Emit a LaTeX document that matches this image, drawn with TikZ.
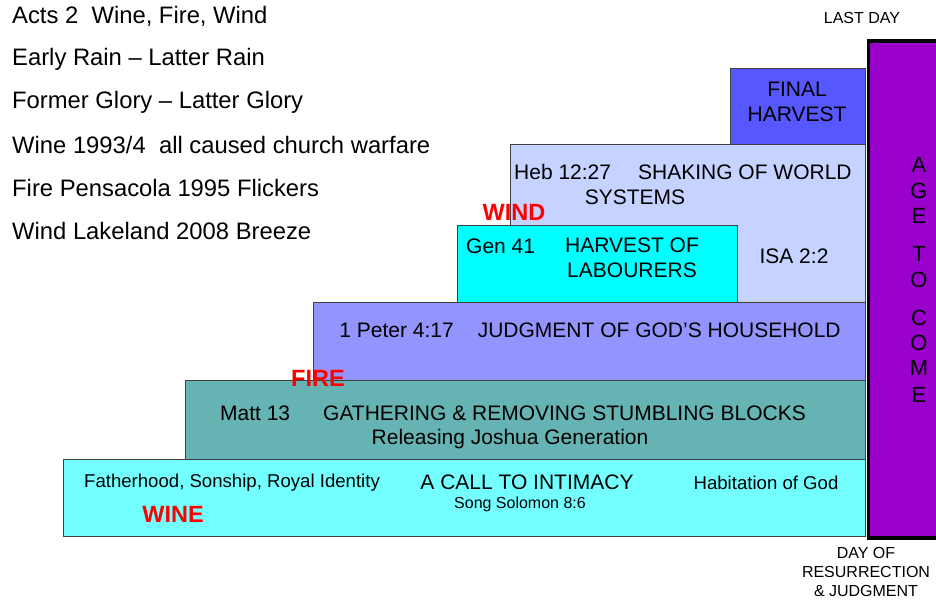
\documentclass[tikz,border=0pt]{standalone}
\usepackage{fontspec}
\setmainfont{Liberation Sans}
\usepackage{xcolor}

\definecolor{winecol}{HTML}{73FFFF}
\definecolor{firecol}{HTML}{66B3B3}
\definecolor{judgecol}{HTML}{9494FF}
\definecolor{shakecol}{HTML}{C6D2FF}
\definecolor{labourcol}{HTML}{00FFFF}
\definecolor{finalcol}{HTML}{5757FF}
\definecolor{agecol}{HTML}{9900CC}
\definecolor{edgecol}{HTML}{404040}

\tikzset{
  stage/.style={draw=edgecol, line width=1pt, anchor=north west, inner sep=0pt},
  listtext/.style={anchor=west, inner sep=0pt, font=\fontsize{23.8}{26}\selectfont},
  boxtext/.style={inner sep=0pt, align=center, font=\fontsize{21}{25.5}\selectfont},
  smalltext/.style={inner sep=0pt, align=center, font=\fontsize{18.6}{22}\selectfont},
  spirit/.style={inner sep=0pt, text=red, font=\bfseries\fontsize{23.5}{26}\selectfont},
  agetext/.style={inner sep=0pt, font=\fontsize{22}{24}\selectfont}
}

\begin{document}
\begin{tikzpicture}[x=1pt, y=-1pt]
	\useasboundingbox (0,0) rectangle (936,600);

	% stages of the staircase
	\node[stage, fill=shakecol, minimum width=355pt, minimum height=158pt] at (510,144) (shake){};
	\node[stage, fill=labourcol, minimum width=280pt, minimum height=77pt] at (457,225) (labour){};
	\node[stage, fill=finalcol, minimum width=135pt, minimum height=76pt] at (730,68) (final){};
	\node[stage, fill=judgecol, minimum width=552pt, minimum height=78pt] at (313,302) (judge){};
	\node[stage, fill=firecol, minimum width=680pt, minimum height=79pt] at (185,380) (fire){};
	\node[stage, fill=winecol, minimum width=802pt, minimum height=77pt] at (63,459) (wine){};
	\node[draw=black, line width=3.5pt, fill=agecol, anchor=north west, inner sep=0pt,
	      minimum width=85pt, minimum height=497pt] at (866.5,39) (age){};

	% list on the left
	\node[listtext] at (12,16)  (l1){Acts 2\ \ Wine, Fire, Wind};
	\node[listtext] at (12,59)  (l2){Early Rain -- Latter Rain};
	\node[listtext] at (12,102) (l3){Former Glory -- Latter Glory};
	\node[listtext] at (12,145) (l4){Wine 1993/4\ \ all caused church warfare};
	\node[listtext] at (12,188) (l5){Fire Pensacola 1995 Flickers};
	\node[listtext] at (12,231) (l6){Wind Lakeland 2008 Breeze};

	% texts in the stages
	\node[boxtext] at (797,102) (finaltxt){FINAL\\HARVEST};
	\node[boxtext, anchor=west] at (514,172) (heb){Heb 12:27\hspace{27pt}SHAKING OF WORLD};
	\node[boxtext] at (635,197) (systems){SYSTEMS};
	\node[boxtext, anchor=west] at (466,246) (gen){Gen 41};
	\node[boxtext] at (632,258) (labourtxt){HARVEST OF\\LABOURERS};
	\node[boxtext] at (794,256) (isa){ISA 2:2};
	\node[boxtext] at (590,330) (judgetxt){1 Peter 4:17\hspace{24pt}JUDGMENT OF GOD’S HOUSEHOLD};
	\node[boxtext] at (513,413) (matt){Matt 13\hspace{33pt}GATHERING \& REMOVING STUMBLING BLOCKS};
	\node[boxtext] at (510,439) (joshua){Releasing Joshua Generation};
	\node[smalltext] at (232,483) (father){Fatherhood, Sonship, Royal Identity};
	\node[boxtext] at (527,482) (intimacy){A CALL TO INTIMACY};
	\node[smalltext, font=\fontsize{16}{19}\selectfont] at (520,504) (song){Song Solomon 8:6};
	\node[smalltext] at (766,483) (habit){Habitation of God};

	% wine, fire, wind
	\node[spirit] at (514,212) (windlbl){WIND};
	\node[spirit] at (318,378) (firelbl){FIRE};
	\node[spirit] at (173,514) (winelbl){WINE};

	% age to come
	\foreach \ch/\yy in {A/165, G/191, E/216, T/254, O/280, C/318, O/343, M/368, E/395}{
		\node[agetext] at (919,\yy) {\ch};
	}
	\node[inner sep=0pt, font=\fontsize{16}{18}\selectfont] at (862,18) (lastday){LAST DAY};
	\node[smalltext, font=\fontsize{16}{19}\selectfont] at (866,572) (resur){DAY OF\\RESURRECTION\\\& JUDGMENT};

\end{tikzpicture}
\end{document}
